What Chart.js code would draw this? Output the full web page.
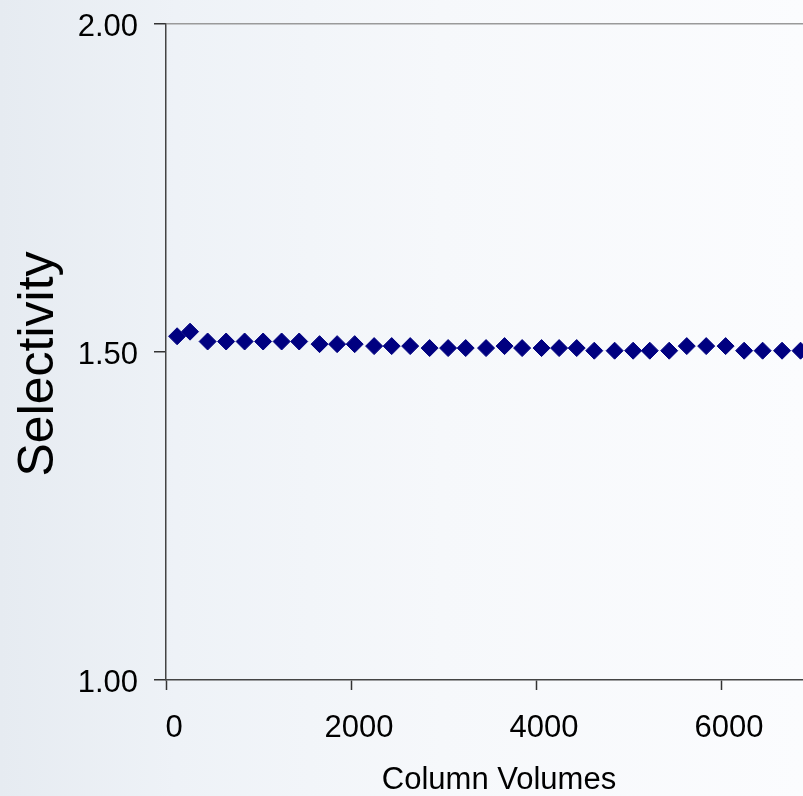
<!DOCTYPE html>
<html>
<head>
  <meta charset="utf-8">
  <title>Selectivity vs column volumes</title>
  <script src="https://cdn.jsdelivr.net/npm/chart.js@4.4.1/dist/chart.umd.min.js"></script>
  <style>
    html, body {
      margin: 0;
      padding: 0;
      width: 803px;
      height: 796px;
      overflow: hidden;
    }
    body {
      background: linear-gradient(to right, #e6ebf1 0%, #eef2f7 22%, #f6f8fb 55%, #fbfcfe 100%);
    }
    canvas { display: block; }
  </style>
</head>
<body>
  <canvas id="chart" width="900" height="796"></canvas>

<script>
  // values
  const columnVolumes = [120, 260, 450, 650, 850, 1050, 1250, 1440, 1660, 1850,
    2040, 2250, 2440, 2640, 2850, 3050, 3240, 3460, 3660, 3850,
    4060, 4250, 4440, 4630, 4850, 5050, 5230, 5440, 5630, 5840,
    6050, 6250, 6450, 6660, 6860];
  const selectivity = [1.524, 1.531, 1.516, 1.516, 1.516, 1.516, 1.516, 1.516, 1.512, 1.512,
    1.512, 1.509, 1.509, 1.509, 1.506, 1.506, 1.506, 1.506, 1.509, 1.506,
    1.506, 1.506, 1.506, 1.502, 1.502, 1.502, 1.502, 1.502, 1.509, 1.509,
    1.509, 1.502, 1.502, 1.502, 1.502];
  const xTicks = [0, 2000, 4000, 6000];
  const yTicks = [1.0, 1.5, 2.0];

  const font = 'Liberation Sans, Arial, sans-serif';

  const chart = new Chart(document.getElementById('chart'), {
    type: 'scatter',
    data: {
      datasets: [{
        data: columnVolumes.map((x, i) => ({ x: x, y: selectivity[i] })),
        pointStyle: 'rectRot',
        pointRadius: 8.5,
        pointHoverRadius: 8.5,
        borderWidth: 1,
        backgroundColor: '#000080',
        borderColor: '#000080',
        showLine: false
      }]
    },
    options: {
      responsive: false,
      animation: false,
      events: [],
      layout: { padding: { left: 0, top: 24, right: 68, bottom: 0 } },
      plugins: {
        legend: { display: false },
        tooltip: { enabled: false }
      },
      scales: {
        x: {
          type: 'linear',
          min: 0,
          max: 7200,
          afterBuildTicks: s => { s.ticks = xTicks.map(v => ({ value: v })); },
          afterFit: s => { s.height = 116; },
          border: { color: '#444', width: 1.5 },
          grid: { drawOnChartArea: false, tickLength: 10, tickColor: '#333', tickWidth: 1.5 },
          ticks: {
            color: '#000',
            font: { family: font, size: 31 },
            padding: 20,
            labelOffset: 8,
            maxRotation: 0,
            callback: v => String(v)
          },
          title: {
            display: true,
            text: 'Column Volumes',
            color: '#000',
            font: { family: font, size: 31, lineHeight: 1 },
            padding: { top: 0, bottom: 0 }
          }
        },
        y: {
          min: 1,
          max: 2,
          afterBuildTicks: s => { s.ticks = yTicks.map(v => ({ value: v })); },
          afterFit: s => {
            s.width = 166;
            s.paddingTop = 0;
            s.paddingBottom = 0;
          },
          border: { color: '#444', width: 1.5 },
          grid: {
            color: c => (c.tick && c.tick.value === 2) ? '#9a9a9a' : 'rgba(0,0,0,0)',
            lineWidth: 1.5,
            tickLength: 12,
            tickColor: '#333',
            tickWidth: 1.5
          },
          ticks: {
            color: '#000',
            font: { family: font, size: 31 },
            padding: 16,
            labelOffset: 3,
            callback: v => Number(v).toFixed(2)
          },
          title: {
            display: true,
            text: 'Selectivity\u00a0\u2009',
            color: '#000',
            font: { family: font, size: 50, lineHeight: 1 },
            padding: { top: 14, bottom: 0 }
          }
        }
      }
    }
  });
</script>
</body>
</html>
